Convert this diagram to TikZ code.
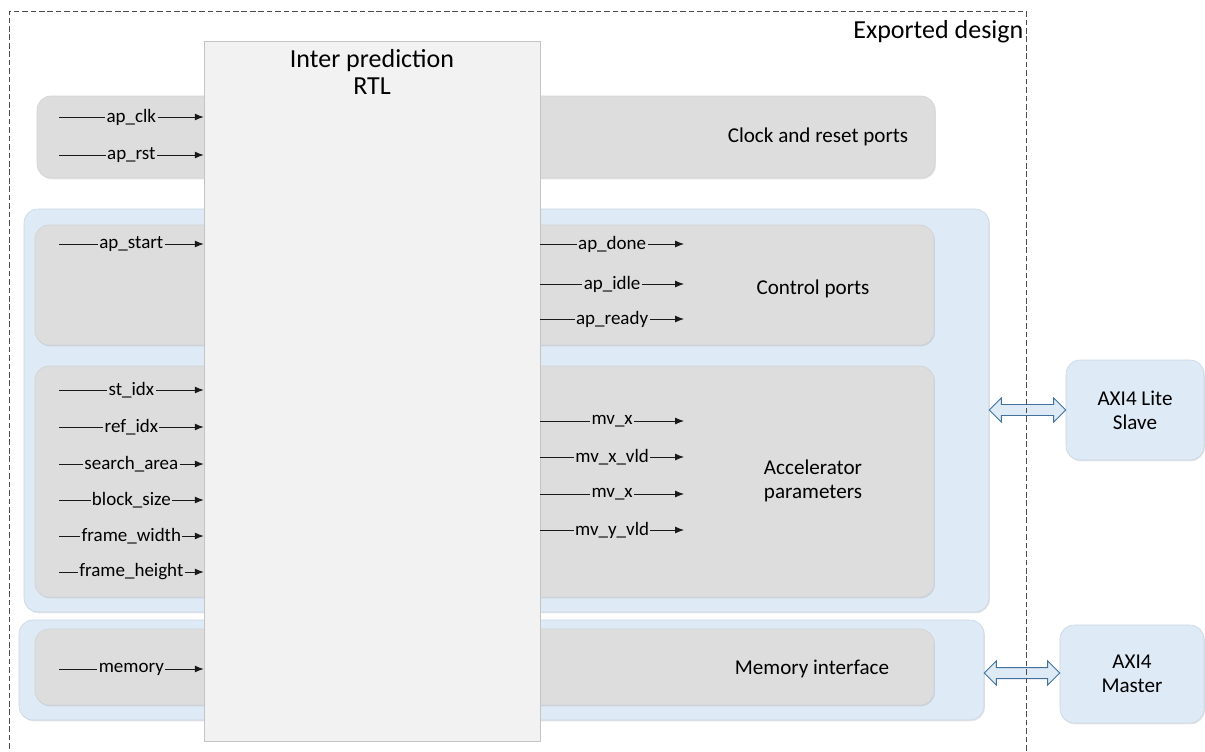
\documentclass[tikz,border=0pt]{standalone}
\usepackage{fontspec}
\setmainfont{Carlito}
\usetikzlibrary{positioning, fit, calc, shadows, arrows.meta}

\definecolor{portgray}{HTML}{DDDDDD}
\definecolor{portline}{HTML}{D2D2D2}
\definecolor{busblue}{HTML}{DEEAF6}
\definecolor{busline}{HTML}{C6D4E4}
\definecolor{rtlfill}{HTML}{F2F2F2}
\definecolor{rtlline}{HTML}{C4C4C4}
\definecolor{linkline}{HTML}{41719C}

% hollow two-headed bus arrow between two named coordinates (left, right)
\newcommand{\buslink}[2]{%
    \draw[link] (#1) -- ++(12,-12) -- ++(0,6.5) -- ($(#2)+(-12,-5.5)$)
        -- ++(0,-6.5) -- (#2) -- ++(-12,12) -- ++(0,-6.5)
        -- ($(#1)+(12,5.5)$) -- ++(0,6.5) -- cycle;}

\begin{document}
\begin{tikzpicture}[
    x=0.025cm, y=-0.025cm,
    softshadow/.style={drop shadow={shadow xshift=0.6pt, shadow yshift=-0.9pt,
        fill=black, opacity=0.10}},
    groupbox/.style={draw=portline, fill=portgray, rounded corners=0.35cm, inner sep=0pt, softshadow},
    busbox/.style={draw=busline, fill=busblue, rounded corners=0.35cm, inner sep=0pt, softshadow},
    rtlbox/.style={draw=rtlline, fill=rtlfill, inner sep=0pt},
    boxlabel/.style={font=\fontsize{15}{17}\selectfont, align=center},
    titlelabel/.style={font=\fontsize{18.5}{19.5}\selectfont, align=center, inner sep=0pt},
    sig/.style={font=\fontsize{13.5}{16}\selectfont, fill=portgray, inner sep=1pt},
    port/.style={draw=black!90, line width=0.6pt, -{Latex[length=2.2mm, width=1.7mm]}},
    link/.style={draw=linkline, fill=busblue, line width=0.7pt, line join=miter}
]
\useasboundingbox (0,0) rectangle (1205,751);
\clip (0,0) rectangle (1205,751);

% --- AXI side blocks and bus groups ---
\node[busbox, fit={(24,209) (989,612)}] (axilite) {};
\node[busbox, fit={(19,620) (984,720)}] (aximaster) {};
\node[busbox, fit={(1066,360) (1204,460)}] (lite) {};
\node[busbox, fit={(1060,625) (1204,723)}] (master) {};
\node[boxlabel] (litelbl) at (lite.center) {AXI4 Lite\\Slave};
\node[boxlabel] (masterlbl) at (master.center) {AXI4\\Master};

% --- Port groups ---
\node[groupbox, fit={(37,96) (935,178)}] (clock) {};
\node[groupbox, fit={(35,225) (934,345)}] (control) {};
\node[groupbox, fit={(35,366) (934,597)}] (accel) {};
\node[groupbox, fit={(35,629) (934,705)}] (memory) {};

\node[boxlabel] (clocklbl) at (818,137) {Clock and reset ports};
\node[boxlabel] (controllbl) at (813,289) {Control ports};
\node[boxlabel] (accellbl) at (813,481) {Accelerator\\parameters};
\node[boxlabel] (memorylbl) at (812,669) {Memory interface};

% --- RTL core ---
\node[rtlbox, fit={(204,41) (540,741)}] (rtl) {};
\node[titlelabel, below=6pt of rtl.north] (rtllbl) {Inter prediction\\RTL};

% --- Inputs ---
\foreach \sname/\y [count=\i] in {ap\_clk/117, ap\_rst/155, ap\_start/244,
        st\_idx/390, ref\_idx/427, search\_area/464, block\_size/500,
        frame\_width/536, frame\_height/572, memory/669} {
    \coordinate (in\i) at (59,\y);
    \draw[port] (in\i) -- node[sig] {\sname} (in\i -| rtl.west);
}

% --- Outputs ---
\foreach \sname/\y [count=\i] in {ap\_done/244, ap\_idle/284, ap\_ready/319,
        mv\_x/421, mv\_x\_vld/457, mv\_x/494, mv\_y\_vld/530} {
    \coordinate (out\i) at (684,\y);
    \draw[port] (rtl.east |- out\i) -- node[sig] {\sname} (out\i);
}

% --- Bus links ---
\coordinate (litelink-a) at (axilite.east |- 0,410);
\coordinate (litelink-b) at (lite.west |- 0,410);
\coordinate (masterlink-a) at (aximaster.east |- 0,673);
\coordinate (masterlink-b) at (master.west |- 0,673);
\buslink{litelink-a}{litelink-b}
\buslink{masterlink-a}{masterlink-b}

% --- Export boundary ---
\node[draw=black!70, dash pattern=on 4pt off 2pt, line width=0.6pt, inner sep=0pt,
    fit={(9,11) (1026,780)}] (exported) {};
\node[titlelabel, below left=7pt and 2pt of exported.north east] (exportlbl) {Exported design};

\end{tikzpicture}
\end{document}
